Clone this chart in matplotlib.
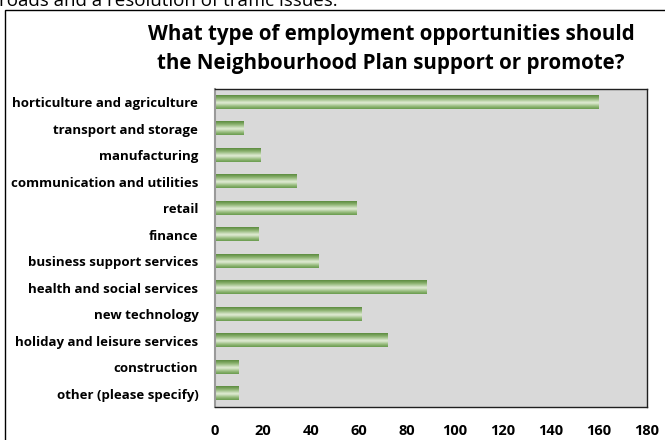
import numpy as np
import matplotlib
matplotlib.use("Agg")
from matplotlib import pyplot as plt
from matplotlib.colors import LinearSegmentedColormap
from matplotlib.patches import Rectangle

plt.rcParams['font.family'] = ['Open Sans', 'DejaVu Sans']

categories = [
    "horticulture and agriculture",
    "transport and storage",
    "manufacturing",
    "communication and utilities",
    "retail",
    "finance",
    "business support services",
    "health and social services",
    "new technology",
    "holiday and leisure services",
    "construction",
    "other (please specify)",
]
responses = [160, 12, 19, 34, 59, 18, 43, 88, 61, 72, 10, 10]
x_ticks = [0, 20, 40, 60, 80, 100, 120, 140, 160, 180]

title_lines = ["What type of employment opportunities should",
               "the Neighbourhood Plan support or promote?"]

# cylinder-like shading across the bar thickness (top -> bottom)
shade = LinearSegmentedColormap.from_list(
    "bar_shade",
    [(0.0, "#5b8a3d"), (0.25, "#8fb574"), (0.55, "#e4eed9"),
     (0.8, "#98bc7e"), (1.0, "#689a4c")])

fig = plt.figure(figsize=(6.65, 4.4), dpi=100)
W, H = 665, 440

# running text of the page above the chart, clipped by the top edge
fig.text(-0.002, 1 - 6 / H, "roads and a resolution of traffic issues.",
         fontsize=13.5, va="baseline", ha="left", color="black")

# chart frame, runs off the right and bottom edges
fig.patches.append(Rectangle((4.5 / W, -0.05), 1.0, 1 - 9.5 / H + 0.05,
                             transform=fig.transFigure, fill=False,
                             edgecolor="black", linewidth=1.0))

ax = fig.add_axes([215 / W, 33 / H, 432 / W, 318 / H])
ax.set_facecolor("#d9d9d9")

y = np.arange(len(categories))
bars = ax.barh(y, responses, height=0.5, color="none", edgecolor="none")

grad = np.linspace(0, 1, 64).reshape(-1, 1)
for b in bars:
    x0, y0 = b.get_x(), b.get_y()
    ax.imshow(grad, cmap=shade, aspect="auto", interpolation="bicubic",
              extent=(x0, x0 + b.get_width(), y0 + b.get_height(), y0),
              zorder=2)

ax.set_xlim(0, 180)
ax.set_ylim(len(categories) - 0.5, -0.5)
ax.set_xticks(x_ticks)
ax.set_xticklabels([str(t) for t in x_ticks], fontweight="bold", fontsize=10.5)
ax.set_yticks(y)
ax.set_yticklabels(categories, fontweight="bold", fontsize=9.5)
ax.tick_params(axis="both", length=0)
ax.tick_params(axis="x", pad=12)
ax.tick_params(axis="y", pad=12)

for side in ("top", "right", "bottom"):
    ax.spines[side].set_color("#202020")
    ax.spines[side].set_linewidth(1.0)
ax.spines["left"].set_color("#9a9a9a")
ax.spines["left"].set_linewidth(1.5)

fig.text(391 / W, 1 - 40 / H, title_lines[0], ha="center", va="baseline",
         fontsize=14.8, fontweight="bold")
fig.text(391 / W, 1 - 69 / H, title_lines[1], ha="center", va="baseline",
         fontsize=14.8, fontweight="bold")

fig.savefig("out.png", dpi=100)
